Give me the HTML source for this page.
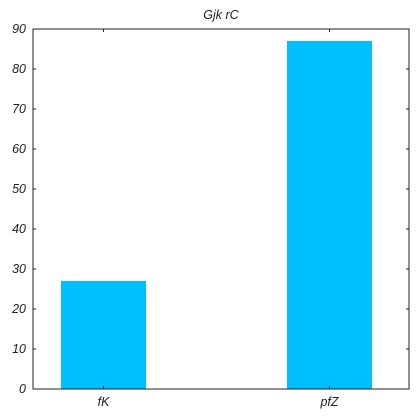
<!DOCTYPE html>
<html><head><meta charset="utf-8"><style>
html,body{margin:0;padding:0;background:#fff;width:420px;height:420px;overflow:hidden;}
svg{display:block;}
svg text{font-family:"Liberation Sans",sans-serif;font-style:italic;font-size:12.5px;fill:#222;}
</style></head><body>
<svg width="420" height="420">
<rect x="0" y="0" width="420" height="420" fill="#fff"/>
<g id="g"></g>
</svg>
<script>
const categories=["fK","pfZ"];
const values=[27,87];
const yTicks=[0,10,20,30,40,50,60,70,80,90];
const L=33,R=409,T=29,B=389;
const y=v=>B-(v/90)*(B-T);
const x=i=>103.5+i*226;
const g=document.getElementById('g');
const ns='http://www.w3.org/2000/svg';
function mk(t,a){const e=document.createElementNS(ns,t);for(const k in a)e.setAttribute(k,a[k]);g.appendChild(e);return e;}
const t=mk('text',{x:(L+R)/2,y:19,'text-anchor':'middle'});t.textContent='Gjk rC';


categories.forEach((c,i)=>{
 const b=mk('rect',{x:x(i)-42.5,y:y(values[i]),width:85,height:B-y(values[i]),fill:'#00BFFF'});
 
 
 const l=mk('text',{x:x(i),y:406,'text-anchor':'middle'});l.textContent=c;
 
 
 mk('line',{x1:x(i),x2:x(i),y1:B,y2:B-3,stroke:'#222'});
 mk('line',{x1:x(i),x2:x(i),y1:T,y2:T+3,stroke:'#222'});
});
yTicks.forEach(v=>{
 const l=mk('text',{x:26,y:y(v)+4,'text-anchor':'end'});l.textContent=v;
 
 
 mk('line',{x1:L,x2:L+3,y1:y(v),y2:y(v),stroke:'#222'});
 mk('line',{x1:R,x2:R-3,y1:y(v),y2:y(v),stroke:'#222'});
});
const f=mk('rect',{x:L,y:T,width:R-L,height:B-T,fill:'none',stroke:'#222','stroke-width':1});


</script>
</body></html>
